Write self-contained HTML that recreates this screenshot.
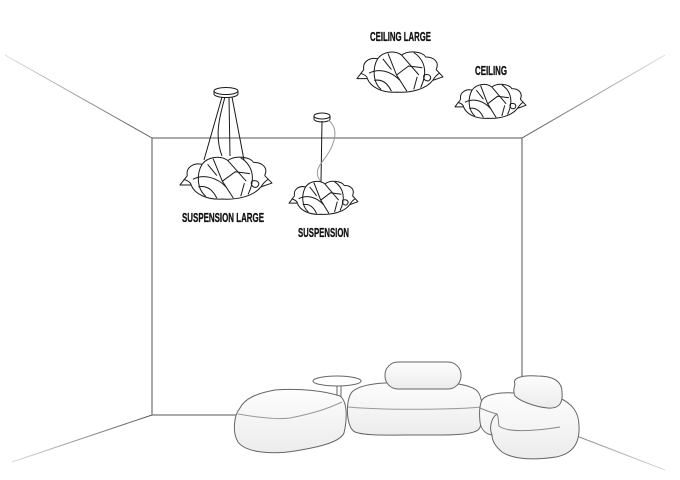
<!DOCTYPE html>
<html><head><meta charset="utf-8"><style>
html,body{margin:0;padding:0;background:#fff;}
svg{display:block;}
text{font-family:"Liberation Sans",sans-serif;font-weight:bold;fill:#111;}
</style></head><body>
<svg width="680" height="480" viewBox="0 0 680 480" xmlns="http://www.w3.org/2000/svg">
<defs>
<linearGradient id="gl" x1="5" y1="55" x2="152" y2="138" gradientUnits="userSpaceOnUse"><stop offset="0" stop-color="#ddd"/><stop offset="1" stop-color="#555"/></linearGradient>
<linearGradient id="gr" x1="665" y1="55" x2="522" y2="138" gradientUnits="userSpaceOnUse"><stop offset="0" stop-color="#ddd"/><stop offset="1" stop-color="#555"/></linearGradient>
<linearGradient id="gfl" x1="12" y1="462" x2="152" y2="415" gradientUnits="userSpaceOnUse"><stop offset="0" stop-color="#ddd"/><stop offset="1" stop-color="#555"/></linearGradient>
<linearGradient id="gfr" x1="665" y1="470" x2="522" y2="415" gradientUnits="userSpaceOnUse"><stop offset="0" stop-color="#ddd"/><stop offset="1" stop-color="#555"/></linearGradient>
<linearGradient id="fill" x1="0" y1="0" x2="0" y2="1"><stop offset="0" stop-color="#fdfdfd"/><stop offset="1" stop-color="#ececec"/></linearGradient>
<g id="lamp" fill="none" stroke="#1a1a1a" stroke-width="1" stroke-linejoin="round">
<path vector-effect="non-scaling-stroke" d="M8,24 C6,16 14,10 24,12 C30,4 44,2 52,8 C60,2 76,4 80,10 C90,10 96,16 92,24"/>
<path vector-effect="non-scaling-stroke" d="M8,24 L0,34 L12,34 M92,24 L100,32 L88,36"/>
<path vector-effect="non-scaling-stroke" d="M12,34 C16,44 30,50 46,49 C62,50 80,46 88,36"/>
<path vector-effect="non-scaling-stroke" d="M24,12 C18,22 18,38 28,46"/>
<path vector-effect="non-scaling-stroke" d="M36,6 L46,30 L58,48"/>
<path vector-effect="non-scaling-stroke" d="M52,8 L72,30"/>
<path vector-effect="non-scaling-stroke" d="M66,5 C80,14 82,28 74,44"/>
<path vector-effect="non-scaling-stroke" d="M14,28 C26,22 40,26 50,36"/>
<path vector-effect="non-scaling-stroke" d="M46,30 L60,20 L76,22"/>
<path vector-effect="non-scaling-stroke" d="M70,32 L66,46"/>
<path vector-effect="non-scaling-stroke" d="M20,36 C30,34 36,40 40,48"/>
<path vector-effect="non-scaling-stroke" d="M30,12 L40,24"/>
<path vector-effect="non-scaling-stroke" d="M78,30 C84,28 88,32 84,36 C80,38 76,34 78,30"/>
<path vector-effect="non-scaling-stroke" d="M4,28 C10,30 12,32 12,34 M96,28 C92,30 90,33 88,36"/>
</g>
</defs>

<!-- room -->
<g fill="none" stroke-width="1">
<line x1="5" y1="55" x2="152" y2="138" stroke="url(#gl)"/>
<line x1="665" y1="55" x2="522" y2="138" stroke="url(#gr)"/>
<line x1="12" y1="462" x2="152" y2="415" stroke="url(#gfl)"/>
<line x1="665" y1="470" x2="522" y2="415" stroke="url(#gfr)"/>
<line x1="152" y1="138" x2="522" y2="138" stroke="#555"/>
<line x1="152" y1="138" x2="152" y2="415" stroke="#555"/>
<line x1="522" y1="138" x2="522" y2="415" stroke="#555"/>
<line x1="152" y1="415" x2="250" y2="415" stroke="#555"/>
</g>

<!-- suspension large hardware -->
<g fill="#fff" stroke="#1a1a1a" stroke-width="1">
<path d="M214,91 L214,94 A12,3.5 0 0 0 238,94 L238,91" />
<ellipse cx="226" cy="91" rx="12" ry="3.5"/>
<path fill="none" d="M222,97 L204,160 M225,97 C220,115 214,135 222,156 M229,97 L230,156 M232,97 L244,160"/>
</g>
<use href="#lamp" transform="translate(180,153) scale(0.92,0.94)"/>

<!-- suspension hardware -->
<g fill="#fff" stroke="#1a1a1a" stroke-width="1">
<path d="M314,116 L314,119 A8,3 0 0 0 330,119 L330,116"/>
<ellipse cx="322" cy="116" rx="8" ry="3"/>
<line x1="322" y1="121" x2="321" y2="182" fill="none"/>
<path d="M328,120 C342,130 332,150 322,162 C314,172 318,178 321,182" fill="none" stroke="#999"/>
</g>
<use href="#lamp" transform="translate(289,178) scale(0.69,0.74)"/>

<use href="#lamp" transform="translate(357,48) scale(0.86,0.9)"/>
<use href="#lamp" transform="translate(455,81) scale(0.71,0.76)"/>

<!-- labels -->
<text x="182" y="222" font-size="12.5" textLength="82" lengthAdjust="spacingAndGlyphs" stroke="#111" stroke-width="0.3">SUSPENSION LARGE</text>
<text x="298" y="237" font-size="12.5" textLength="51" lengthAdjust="spacingAndGlyphs" stroke="#111" stroke-width="0.3">SUSPENSION</text>
<text x="370" y="41" font-size="12.5" textLength="61" lengthAdjust="spacingAndGlyphs" stroke="#111" stroke-width="0.3">CEILING LARGE</text>
<text x="475" y="75" font-size="12.5" textLength="32" lengthAdjust="spacingAndGlyphs" stroke="#111" stroke-width="0.3">CEILING</text>

<!-- furniture -->
<g stroke="#666" stroke-width="1" fill="url(#fill)">
<!-- side table -->
<line x1="337" y1="385" x2="337" y2="398"/>
<line x1="341" y1="385" x2="341" y2="398"/>
<ellipse cx="337" cy="381" rx="24" ry="5" fill="#fff"/>
<!-- sofa -->
<path d="M352,392 C360,384 380,382 420,382 C450,382 472,384 478,392 C484,400 484,425 478,430 C470,436 440,435 420,435 C390,435 365,436 355,432 C346,428 345,400 352,392 Z"/>
<path d="M348,407 C380,410 450,410 482,407" fill="none" stroke="#999"/>
<rect x="385" y="362" width="76" height="27" rx="13" ry="13"/>
<!-- ottoman -->
<path d="M240,408 C245,398 258,393 275,390 C300,388 325,391 340,396 C348,402 347,420 344,433 C340,442 320,447 295,451 C270,455 245,452 238,442 C232,432 234,415 240,408 Z"/>
<path d="M238,414 C255,417 275,420 290,418 C310,414 325,410 342,402" fill="none" stroke="#999"/>
<!-- chair -->
<path d="M482,400 C485,395 498,392 514,393 L560,398 C572,404 579,412 579,426 C580,444 572,454 556,457 C536,460 514,460 502,452 C495,446 492,440 492,435 C486,434 481,430 480,422 C479,412 480,404 482,400 Z"/>
<path d="M480,408 C487,411 493,413 497,414 C499,418 498,422 499,426 C506,432 530,432 560,427" fill="none" stroke="#888"/>
<path d="M497,414 C491,418 489,428 492,435" fill="none"/>
<path d="M515,384 C512,378 522,375 537,376 C552,376 562,380 562,392 C563,402 560,409 548,408 C535,407 520,401 515,396 C513,392 514,388 515,384 Z"/>
</g>
</svg>
</body></html>
